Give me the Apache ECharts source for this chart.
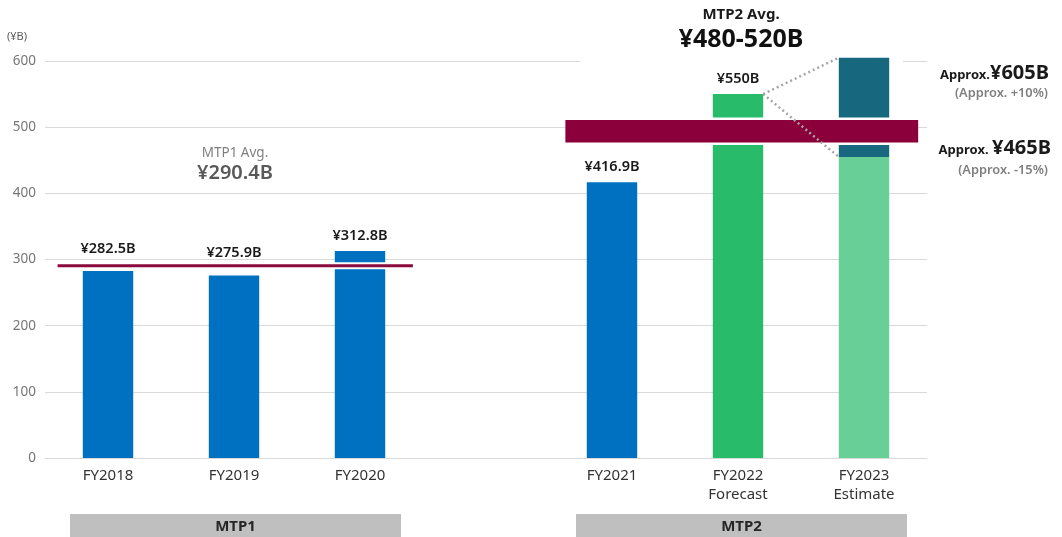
<!DOCTYPE html>
<html>
<head>
<meta charset="utf-8">
<script src="https://cdn.jsdelivr.net/npm/echarts@6/dist/echarts.min.js"></script>
<style>
  html, body { margin: 0; padding: 0; background: #fff; }
  #main { width: 1062px; height: 537px; }
</style>
</head>
<body>
<div id="main"></div>
<script>
// 資料
const categories = ['FY2018', 'FY2019', 'FY2020', '', 'FY2021', 'FY2022\nForecast', 'FY2023\nEstimate'];
const actual = [282.5, 275.9, 312.8, '-', 416.9, '-', '-'];
const forecast = ['-', '-', '-', '-', '-', 550, '-'];
const estimateLow = ['-', '-', '-', '-', '-', '-', 455];
const estimateHigh = ['-', '-', '-', '-', '-', '-', 605];
const mtp1Avg = 290.4;
const mtp2Band = [477, 511];
const yMin = 0, yMax = 600, yStep = 100;

const font = '"Noto Sans", "Open Sans", sans-serif';
const barRatio = 0.4;

// 標籤距離：低於平均線的柱子把標籤推到線上方
function withLabel(arr) {
  return arr.map(function (v) {
    if (v === '-') return '-';
    return { value: v, label: { distance: v < mtp1Avg ? 15 : 8 } };
  });
}

const estimateRange = estimateHigh.map(function (v, i) {
  return v === '-' ? '-' : v - estimateLow[i];
});

const chart = echarts.init(document.getElementById('main'));

const barLabel = {
  show: true,
  position: 'top',
  fontFamily: font,
  fontSize: 14.5,
  fontWeight: 600,
  color: '#1a1a1a',
  formatter: function (p) { return '¥' + p.value + 'B'; }
};

function txt(text, x, y, size, weight, color, align) {
  return {
    type: 'text', z: 10,
    style: {
      text: text, x: x, y: y,
      fontFamily: font, fontSize: size, fontWeight: weight, fill: color,
      align: align || 'center', textAlign: align || 'center',
      verticalAlign: 'middle', textVerticalAlign: 'middle'
    }
  };
}

function richTxt(big, x, y) {
  return {
    type: 'text', z: 10,
    style: {
      text: '{s|' + big[0] + '}{l|' + big[1] + '}',
      x: x, y: y,
      align: 'right', textAlign: 'right',
      verticalAlign: 'middle', textVerticalAlign: 'middle',
      rich: {
        s: { fontFamily: font, fontSize: 13, fontWeight: 'bold', fill: '#1a1a1a', color: '#1a1a1a', padding: [5, 0, 0, 0] },
        l: { fontFamily: font, fontSize: 20, fontWeight: 'bold', fill: '#1a1a1a', color: '#1a1a1a' }
      }
    }
  };
}

chart.setOption({
  animation: false,
  backgroundColor: '#fff',
  grid: { left: 45, right: 135, top: 61, bottom: 79 },
  xAxis: {
    type: 'category',
    data: categories,
    axisTick: { show: false },
    axisLine: { lineStyle: { color: '#D9D9D9', width: 1 } },
    axisLabel: {
      interval: 0,
      margin: 8,
      fontFamily: font,
      fontSize: 15,
      lineHeight: 19,
      color: '#333'
    }
  },
  yAxis: {
    type: 'value',
    min: yMin, max: yMax, interval: yStep,
    axisLine: { show: false },
    axisTick: { show: false },
    axisLabel: { fontFamily: font, fontSize: 13.5, color: '#767676', margin: 9 },
    splitLine: { lineStyle: { color: '#D9D9D9', width: 1 } }
  },
  series: [
    {
      // 標題底下的白底，把 600 格線斷開
      name: 'Title gap', type: 'custom', z: 1, silent: true,
      data: [[4, 6, yMax]],
      renderItem: function (params, api) {
        const cw = api.size([1, 0])[0];
        const a = api.coord([api.value(0), api.value(2)]);
        const b = api.coord([api.value(1), api.value(2)]);
        const x1 = a[0] - cw * 0.25, x2 = b[0] + cw * 0.31;
        return { type: 'rect', shape: { x: x1, y: a[1] - 4, width: x2 - x1, height: 8 }, style: { fill: '#fff' } };
      }
    },
    {
      name: 'Actual', type: 'bar', barWidth: '40%', barGap: '-100%', z: 2,
      data: withLabel(actual),
      itemStyle: { color: '#0070C0' },
      label: barLabel
    },
    {
      name: 'Forecast', type: 'bar', barWidth: '40%', barGap: '-100%', z: 2,
      data: withLabel(forecast),
      itemStyle: { color: '#28BC6A' },
      label: Object.assign({}, barLabel, { distance: 5 })
    },
    {
      name: 'Estimate low', type: 'bar', barWidth: '40%', barGap: '-100%', stack: 'est', z: 2,
      data: estimateLow,
      itemStyle: { color: '#68D096' }
    },
    {
      name: 'Estimate range', type: 'bar', barWidth: '40%', barGap: '-100%', stack: 'est', z: 2,
      clip: false,
      data: estimateRange,
      itemStyle: { color: '#17687F' }
    },
    {
      // MTP1 平均線
      name: 'MTP1 Avg', type: 'custom', z: 3,
      data: [[0, 2, mtp1Avg]],
      renderItem: function (params, api) {
        const cw = api.size([1, 0])[0];
        const a = api.coord([api.value(0), api.value(2)]);
        const b = api.coord([api.value(1), api.value(2)]);
        const x1 = a[0] - cw * 0.4, x2 = b[0] + cw * 0.42;
        return {
          type: 'group',
          children: [
            { type: 'rect', shape: { x: x1, y: a[1] - 3.5, width: x2 - x1, height: 7 }, style: { fill: '#fff' } },
            { type: 'rect', shape: { x: x1, y: a[1] - 1.5, width: x2 - x1, height: 3 }, style: { fill: '#8B0A3E' } }
          ]
        };
      }
    },
    {
      // MTP2 平均帶
      name: 'MTP2 Avg', type: 'custom', z: 3,
      data: [[4, 6, mtp2Band[0], mtp2Band[1]]],
      renderItem: function (params, api) {
        const cw = api.size([1, 0])[0];
        const top = api.coord([api.value(0), api.value(3)]);
        const bot = api.coord([api.value(1), api.value(2)]);
        const x1 = top[0] - cw * 0.37, x2 = bot[0] + cw * 0.43;
        const h = bot[1] - top[1];
        return {
          type: 'group',
          children: [
            { type: 'rect', shape: { x: x1, y: top[1] - 2.5, width: x2 - x1, height: h + 5 }, style: { fill: '#fff' } },
            { type: 'rect', shape: { x: x1, y: top[1], width: x2 - x1, height: h }, style: { fill: '#8B003B' } }
          ]
        };
      }
    },
    {
      // 虛線連接
      name: 'Connectors', type: 'custom', z: 4, clip: false,
      data: [[5, forecast[5], 6, estimateHigh[6]], [5, forecast[5], 6, estimateLow[6]]],
      renderItem: function (params, api) {
        const bw = api.size([1, 0])[0] * barRatio;
        const p = api.coord([api.value(0), api.value(1)]);
        const q = api.coord([api.value(2), api.value(3)]);
        return {
          type: 'line',
          shape: { x1: p[0] + bw / 2, y1: p[1], x2: q[0] - bw / 2, y2: q[1] },
          style: { stroke: '#A6A6A6', lineWidth: 2.5, lineDash: [2, 3] }
        };
      }
    }
  ],
  graphic: [
    txt('(¥B)', 7, 37, 11, 'normal', '#595959', 'left'),
    txt('MTP1 Avg.', 235, 153, 13.5, 'normal', '#808080'),
    txt('¥290.4B', 235, 173, 20, 600, '#595959'),
    txt('MTP2 Avg.', 741, 15, 15, 'bold', '#1a1a1a'),
    txt('¥480-520B', 741, 40, 25, 'bold', '#111'),
    richTxt(['Approx.', '¥605B'], 1049, 73),
    txt('(Approx. +10%)', 1048, 93, 12.8, 600, '#7F7F7F', 'right'),
    richTxt(['Approx. ', '¥465B'], 1051, 148),
    txt('(Approx. -15%)', 1048, 170, 12.8, 600, '#7F7F7F', 'right'),
    { type: 'rect', z: 1, shape: { x: 70, y: 514, width: 331, height: 24 }, style: { fill: '#BFBFBF' } },
    txt('MTP1', 235.5, 527, 15, 'bold', '#262626'),
    { type: 'rect', z: 1, shape: { x: 576, y: 514, width: 331, height: 24 }, style: { fill: '#BFBFBF' } },
    txt('MTP2', 741.5, 527, 15, 'bold', '#262626')
  ]
});
</script>
</body>
</html>
